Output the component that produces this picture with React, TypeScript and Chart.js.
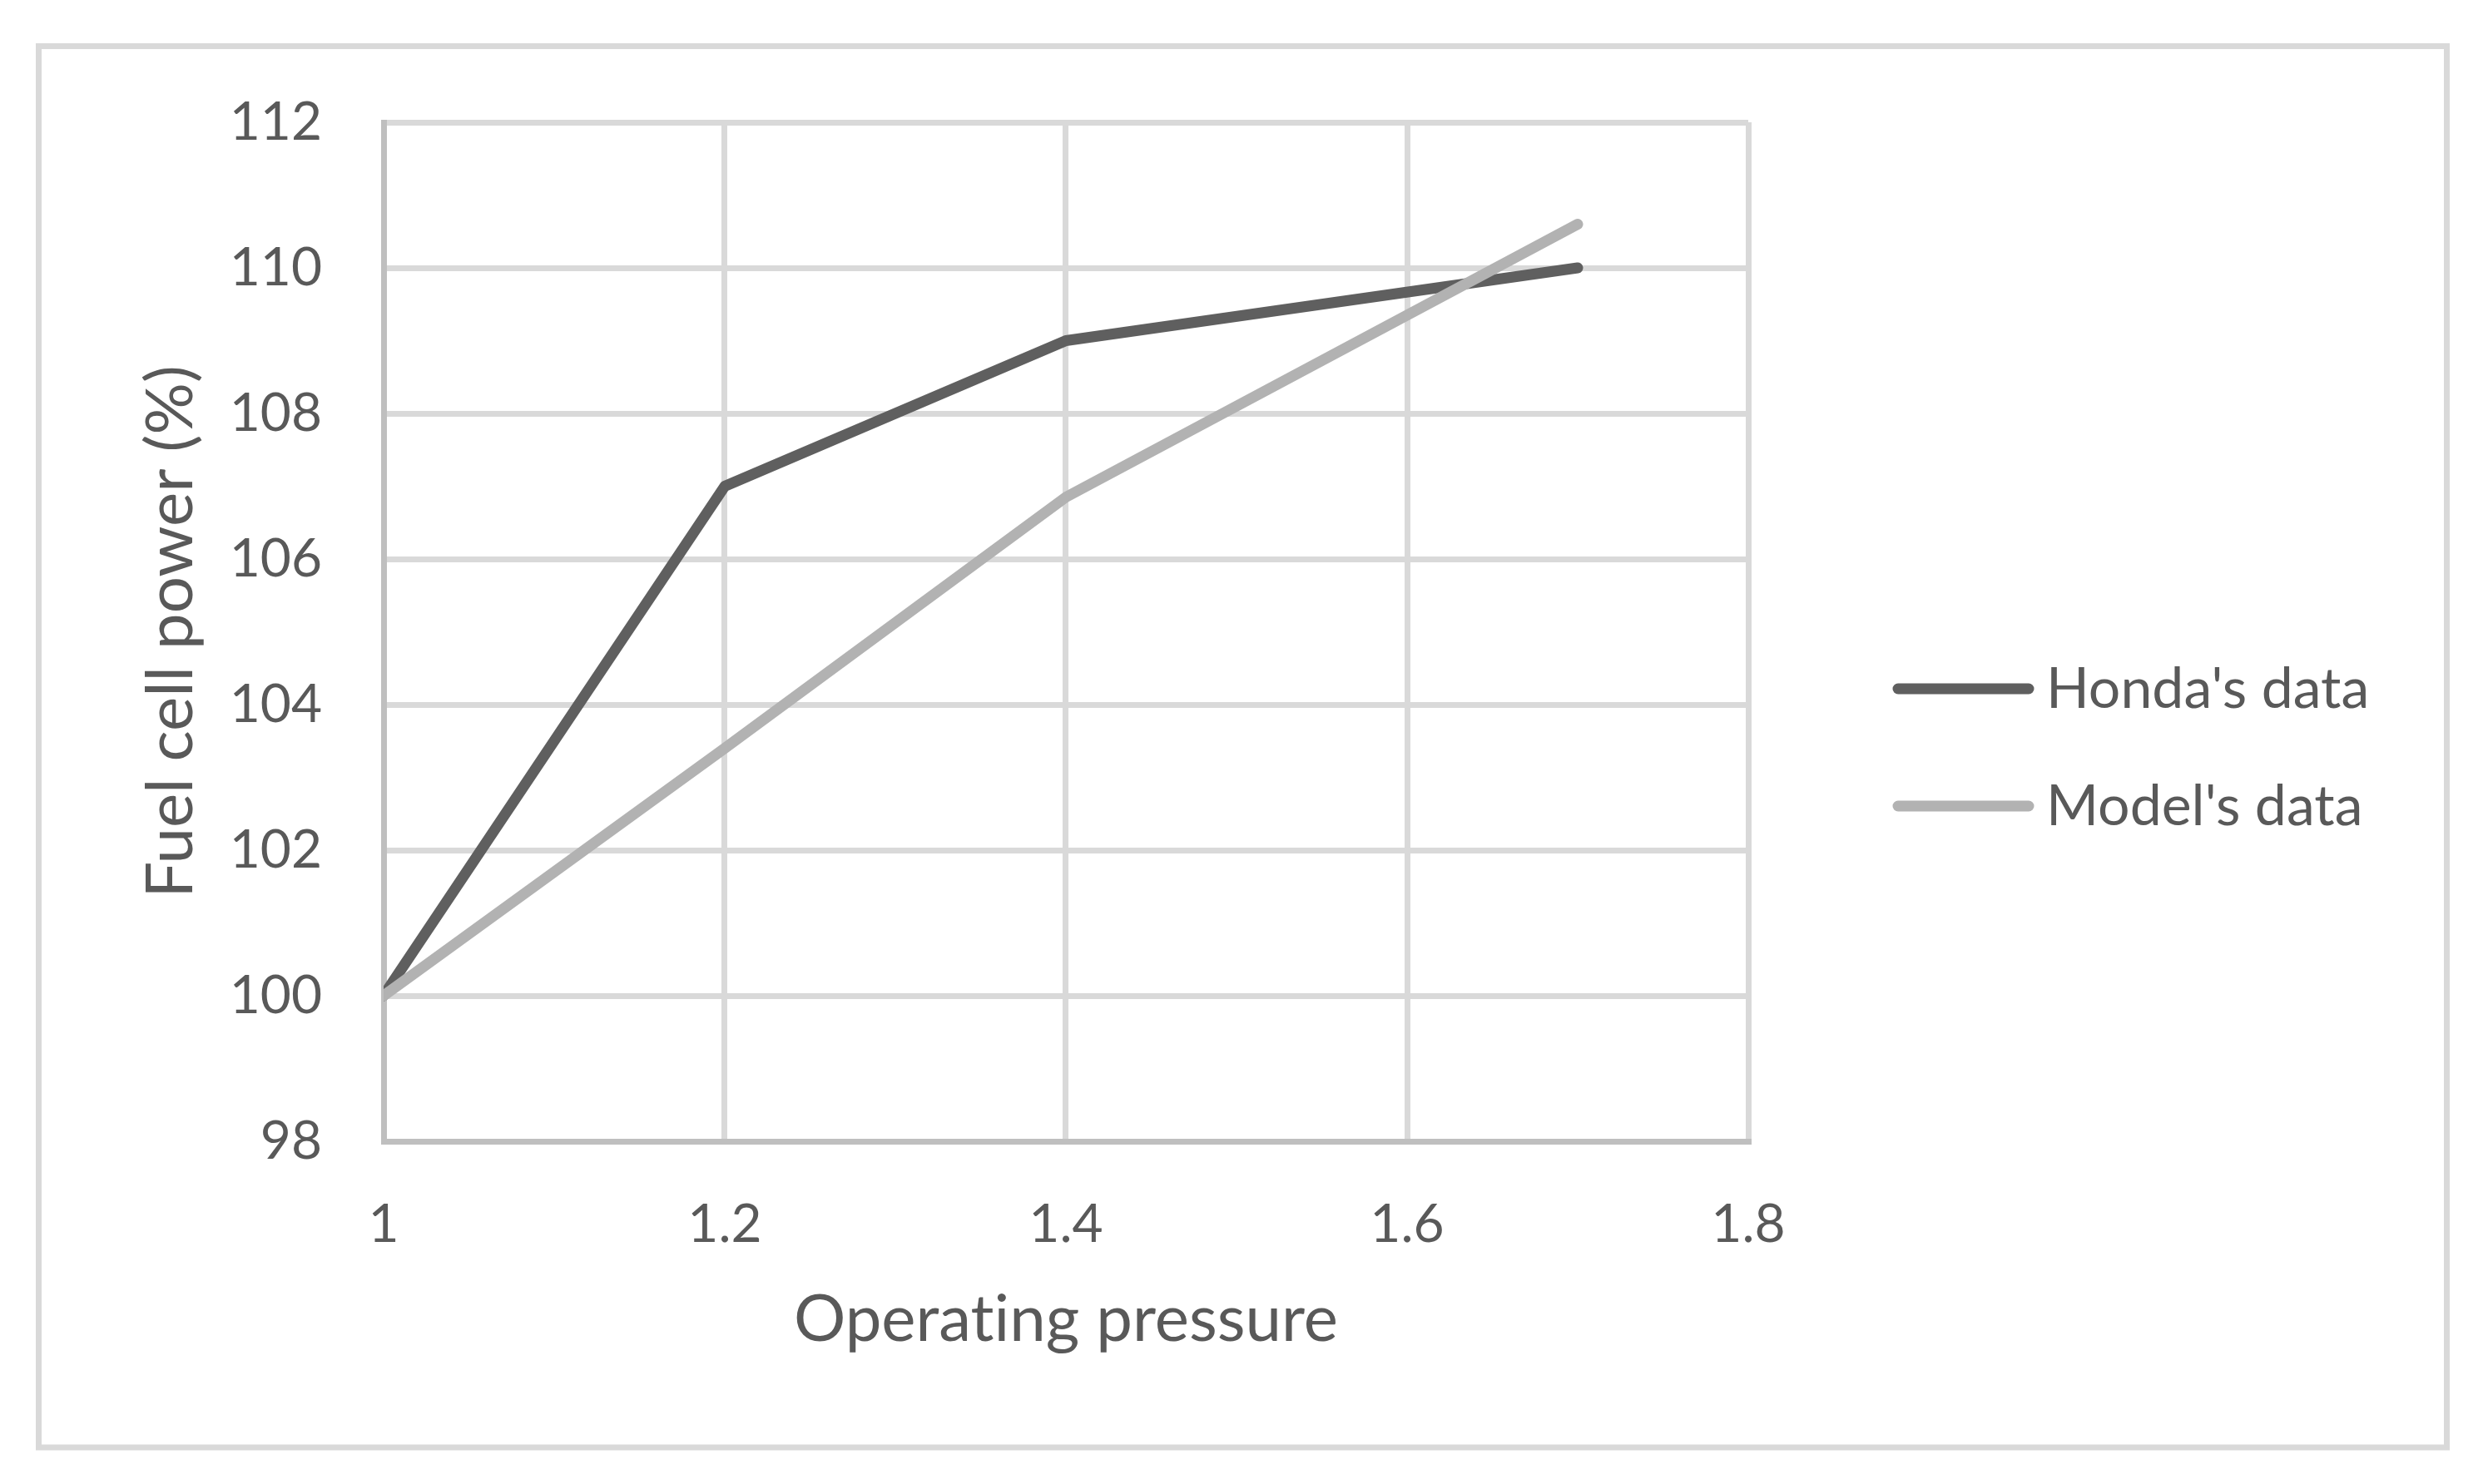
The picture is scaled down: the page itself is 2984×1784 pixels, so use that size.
import React, { useEffect, useRef } from "react";
import { Chart, registerables } from "chart.js";

Chart.register(...registerables);

// ---- data ----
const pressure = [1, 1.2, 1.4, 1.7];
const hondaValues = [100, 107, 109, 110];
const modelValues = [100, 103.4, 106.85, 110.6];
const xTickValues = [1, 1.2, 1.4, 1.6, 1.8];
const yTickValues = [98, 100, 102, 104, 106, 108, 110, 112];
const seriesNames = ["Honda's data", "Model's data"];
const seriesColors = ["#5f5f5f", "#b2b2b2"];
const xTitle = "Operating pressure";
const yTitle = "Fuel cell power (%)";

const TEXT = "#595959";
const FONT = "Lato";

const framePlugin = {
  id: "frameAndLegend",
  beforeDraw(chart: any) {
    const ctx = chart.ctx;
    try {
      (ctx as any).textRendering = "optimizeSpeed";
    } catch (e) {}
    ctx.save();
    ctx.fillStyle = "#ffffff";
    ctx.fillRect(0, 0, chart.width, chart.height);
    ctx.strokeStyle = "#d9d9d9";
    ctx.lineWidth = 7;
    ctx.strokeRect(46.5, 55.5, 2894, 1684.5);
    ctx.restore();
  },
  afterDraw(chart: any) {
    const ctx = chart.ctx;
    const ds = chart.data.datasets;
    const centerY = 898.5;
    const gap = 141;
    ctx.save();
    ds.forEach((d: any, i: number) => {
      const y = centerY + (i - (ds.length - 1) / 2) * gap;
      ctx.strokeStyle = d.borderColor;
      ctx.lineWidth = d.borderWidth;
      ctx.lineCap = "round";
      ctx.beginPath();
      ctx.moveTo(2281, y);
      ctx.lineTo(2438, y);
      ctx.stroke();
      ctx.fillStyle = TEXT;
      ctx.font = `68px ${FONT}`;
      ctx.textAlign = "left";
      ctx.textBaseline = "alphabetic";
      ctx.fillText(d.label, 2459, y + 23);
    });
    ctx.restore();
  },
};

export default function App() {
  const ref = useRef<HTMLCanvasElement | null>(null);

  useEffect(() => {
    if (!ref.current) return;
    const chart = new Chart(ref.current, {
      type: "line",
      data: {
        datasets: [
          {
            label: seriesNames[0],
            data: pressure.map((x, i) => ({ x, y: hondaValues[i] })),
            borderColor: seriesColors[0],
            backgroundColor: seriesColors[0],
            borderWidth: 13,
            borderCapStyle: "round",
            borderJoinStyle: "round",
            pointRadius: 0,
            tension: 0,
            order: 1,
            clip: { left: 0, right: 20, top: 20, bottom: 20 } as any,
          },
          {
            label: seriesNames[1],
            data: pressure.map((x, i) => ({ x, y: modelValues[i] })),
            borderColor: seriesColors[1],
            backgroundColor: seriesColors[1],
            borderWidth: 13,
            borderCapStyle: "round",
            borderJoinStyle: "round",
            pointRadius: 0,
            tension: 0,
            order: 0,
            clip: { left: 0, right: 20, top: 20, bottom: 20 } as any,
          },
        ],
      },
      options: {
        responsive: false,
        animation: false,
        devicePixelRatio: 1,
        layout: { padding: { left: 0, top: 147, right: 883, bottom: 0 } },
        plugins: {
          legend: { display: false },
          tooltip: { enabled: false },
        },
        scales: {
          x: {
            type: "linear",
            min: 1,
            max: 1.8,
            afterBuildTicks: (s: any) => {
              s.ticks = xTickValues.map((v) => ({ value: v }));
            },
            afterFit: (s: any) => {
              s.height = 412;
            },
            grid: { color: "#d9d9d9", lineWidth: 7, drawTicks: false },
            border: { color: "#bfbfbf", width: 7 },
            ticks: {
              color: TEXT,
              font: { family: FONT, size: 64 },
              padding: 62,
              maxRotation: 0,
              autoSkip: false,
              callback: (v: any) => String(Math.round(Number(v) * 10) / 10),
            },
            title: {
              display: true,
              text: xTitle,
              color: TEXT,
              font: { family: FONT, size: 78 },
              padding: { top: 0, bottom: 150 },
            },
          },
          y: {
            type: "linear",
            min: 98,
            max: 112,
            afterBuildTicks: (s: any) => {
              s.ticks = yTickValues.map((v) => ({ value: v }));
            },
            afterFit: (s: any) => {
              s.width = 461;
            },
            grid: { color: "#d9d9d9", lineWidth: 7, drawTicks: false },
            border: { color: "#bfbfbf", width: 7 },
            ticks: {
              color: TEXT,
              font: { family: FONT, size: 64 },
              padding: 74,
              autoSkip: false,
            },
            title: {
              display: true,
              text: yTitle,
              color: TEXT,
              font: { family: FONT, size: 78 },
              padding: { top: 159, bottom: 0 },
            },
          },
        },
      },
      plugins: [framePlugin],
    } as any);
    return () => chart.destroy();
  }, []);

  return (
    <div style={{ position: "absolute", left: 0, top: 0, width: 2984, height: 1784, background: "#fff" }}>
      <canvas ref={ref} width={2984} height={1784} style={{ display: "block", width: 2984, height: 1784 }} />
    </div>
  );
}
